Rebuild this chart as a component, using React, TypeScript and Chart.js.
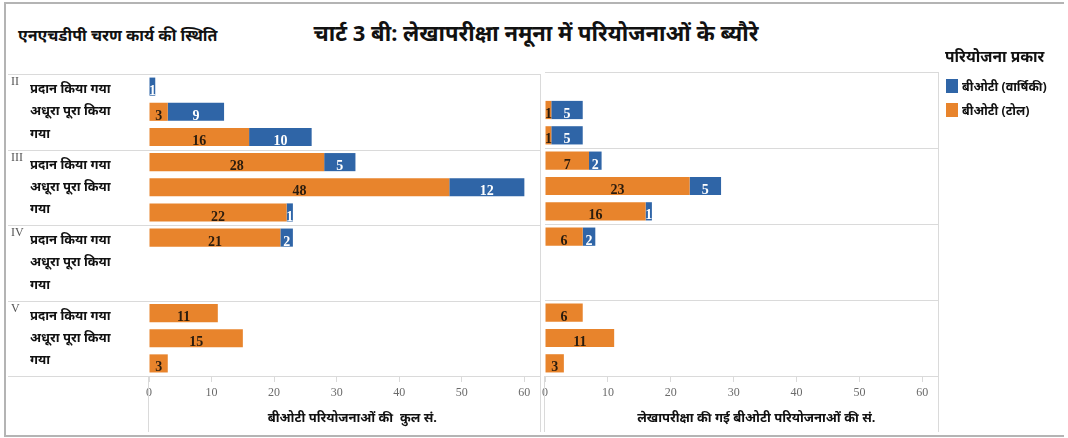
import React, { useEffect, useRef } from 'react';
import { Chart, registerables } from 'chart.js';
Chart.register(...registerables);

// ---- data ----
const phases = ['II', 'III', 'IV', 'V'];
const statusLines = ['प्रदान किया गया', 'अधूरा पूरा किया', 'गया'];
const categories = [
  'II-प्रदान किया गया', 'II-अधूरा', 'II-पूरा किया गया',
  'III-प्रदान किया गया', 'III-अधूरा', 'III-पूरा किया गया',
  'IV-प्रदान किया गया', 'IV-अधूरा', 'IV-पूरा किया गया',
  'V-प्रदान किया गया', 'V-अधूरा', 'V-पूरा किया गया',
];
const seriesToll = 'बीओटी (टोल)';
const seriesAnnuity = 'बीओटी (वार्षिकी)';
const totalToll = [0, 3, 16, 28, 48, 22, 21, 0, 0, 11, 15, 3];
const totalAnnuity = [1, 9, 10, 5, 12, 1, 2, 0, 0, 0, 0, 0];
const auditedToll = [0, 1, 1, 7, 23, 16, 6, 0, 0, 6, 11, 3];
const auditedAnnuity = [0, 5, 5, 2, 5, 1, 2, 0, 0, 0, 0, 0];
const xTicks = [0, 10, 20, 30, 40, 50, 60];
const xMax = 62.5;

const chartTitle = 'चार्ट 3 बी: लेखापरीक्षा नमूना में परियोजनाओं के ब्यौरे';
const yHeading = 'एनएचडीपी चरण कार्य की स्थिति';
const leftAxisTitle = 'बीओटी परियोजनाओं की  कुल सं.';
const rightAxisTitle = 'लेखापरीक्षा की गई बीओटी परियोजनाओं की सं.';
const legendTitle = 'परियोजना प्रकार';

const ORANGE = '#E8842C';
const BLUE = '#2F65A7';
const LINE = '#dadada';
const DEV = '"Noto Sans", "Noto Sans Devanagari", sans-serif';
const SERIF = '"Liberation Serif", "Times New Roman", serif';

type PanelProps = {
  toll: number[];
  annuity: number[];
  left: number;
  width: number;
  withLabels: boolean;
  axisTitle: string;
  titleValue: number;
};

function Panel({ toll, annuity, left, width, withLabels, axisTitle, titleValue }: PanelProps) {
  const ref = useRef<HTMLCanvasElement | null>(null);
  useEffect(() => {
    if (!ref.current) return;
    const panelPlugin = {
      id: 'panelDeco',
      beforeDatasetsDraw(chart: any) {
        const ctx = chart.ctx;
        const y = chart.scales.y;
        const ca = chart.chartArea;
        const half = (y.getPixelForValue(1) - y.getPixelForValue(0)) / 2;
        ctx.save();
        ctx.strokeStyle = LINE;
        ctx.lineWidth = 1;
        const startX = withLabels ? 8 : ca.left;
        for (let i = 0; i <= categories.length; i += 3) {
          const py = Math.round(
            i < categories.length ? y.getPixelForValue(i) - half : y.getPixelForValue(categories.length - 1) + half
          ) + 0.5;
          ctx.beginPath();
          ctx.moveTo(startX, py);
          ctx.lineTo(ca.right, py);
          ctx.stroke();
        }
        ctx.beginPath();
        ctx.moveTo(Math.round(ca.right) + 0.5, ca.top);
        ctx.lineTo(Math.round(ca.right) + 0.5, chart.height - 6);
        ctx.moveTo(Math.round(ca.left) - 0.5, ca.bottom);
        ctx.lineTo(Math.round(ca.left) - 0.5, chart.height - 6);
        ctx.stroke();
        if (withLabels) {
          ctx.fillStyle = '#555';
          ctx.font = `12px ${SERIF}`;
          ctx.textAlign = 'left';
          ctx.textBaseline = 'middle';
          phases.forEach((p, gi) => {
            const top = y.getPixelForValue(gi * 3) - half;
            ctx.fillText(p, 11, top + 8);
          });
        }
        ctx.fillStyle = '#111';
        ctx.font = `bold 13px ${DEV}`;
        ctx.textAlign = 'center';
        ctx.textBaseline = 'middle';
        ctx.fillText(axisTitle, chart.scales.x.getPixelForValue(titleValue), chart.height - 20);
        ctx.restore();
      },
      afterDatasetsDraw(chart: any) {
        const ctx = chart.ctx;
        ctx.save();
        ctx.font = `bold 14px ${SERIF}`;
        ctx.textAlign = 'center';
        ctx.textBaseline = 'alphabetic';
        chart.data.datasets.forEach((ds: any, di: number) => {
          const meta = chart.getDatasetMeta(di);
          meta.data.forEach((bar: any, i: number) => {
            const v = ds.data[i];
            if (!v) return;
            const p = bar.getProps(['x', 'y', 'base', 'height'], true);
            ctx.fillStyle = di === 0 ? '#2a1c0e' : '#ffffff';
            ctx.fillText(String(v), (p.x + p.base) / 2, p.y + p.height / 2 - 1);
          });
        });
        ctx.restore();
      },
    };

    const chart = new Chart(ref.current, {
      type: 'bar',
      data: {
        labels: categories,
        datasets: [
          { label: seriesToll, data: toll, backgroundColor: ORANGE, borderWidth: 0 },
          { label: seriesAnnuity, data: annuity, backgroundColor: BLUE, borderWidth: 0 },
        ],
      },
      options: {
        indexAxis: 'y',
        responsive: false,
        animation: false,
        maintainAspectRatio: false,
        layout: { padding: { left: withLabels ? 30 : 0, right: withLabels ? 2 : 24, top: 12, bottom: 0 } },
        plugins: { legend: { display: false }, tooltip: { enabled: false }, title: { display: false } },
        datasets: { bar: { barPercentage: 0.72, categoryPercentage: 1 } },
        scales: {
          x: {
            stacked: true,
            min: 0,
            max: xMax,
            afterBuildTicks: (s: any) => {
              s.ticks = xTicks.map((v) => ({ value: v }));
            },
            afterFit: (s: any) => {
              s.height = 62;
            },
            grid: { drawOnChartArea: false, drawTicks: true, tickLength: 6, color: LINE },
            border: { display: false },
            ticks: { color: '#6a6a6a', font: { family: SERIF, size: 12 }, padding: 4, maxRotation: 0 },
          },
          y: {
            stacked: true,
            display: withLabels,
            afterFit: (s: any) => {
              s.width = withLabels ? 119 : 0;
            },
            grid: { display: false },
            border: { display: false },
            ticks: {
              autoSkip: false,
              crossAlign: 'far',
              color: '#111',
              font: { family: DEV, size: 13, weight: 'bold', lineHeight: 1.7 },
              callback: (_v: any, i: number) => (i % 3 === 1 ? statusLines : ''),
            },
          },
        },
      } as any,
      plugins: [panelPlugin],
    });
    return () => chart.destroy();
  }, []);
  return (
    <div style={{ position: 'absolute', left, top: 60, width, height: 378 }}>
      <canvas ref={ref} width={width} height={378} />
    </div>
  );
}

export default function App() {
  return (
    <div
      style={{
        position: 'absolute',
        left: 0,
        top: 0,
        width: 1068,
        height: 438,
        background: '#fff',
        overflow: 'hidden',
        fontFamily: DEV,
      }}
    >
      <div
        style={{
          position: 'absolute',
          left: 4,
          top: 2,
          width: 1058,
          height: 431,
          border: '2px solid #b4b4b4',
          borderRight: 'none',
        }}
      />
      <div
        style={{
          position: 'absolute',
          left: 0,
          width: 1072,
          top: 18,
          textAlign: 'center',
          fontWeight: 'bold',
          fontSize: 22,
          lineHeight: '28px',
          color: '#111',
        }}
      >
        {chartTitle}
      </div>
      <div style={{ position: 'absolute', left: 18, top: 24, fontWeight: 'bold', fontSize: 16, lineHeight: '22px', color: '#111' }}>
        {yHeading}
      </div>
      <Panel toll={totalToll} annuity={totalAnnuity} left={0} width={542} withLabels={true} axisTitle={leftAxisTitle} titleValue={32.5} />
      <Panel toll={auditedToll} annuity={auditedAnnuity} left={538} width={424} withLabels={false} axisTitle={rightAxisTitle} titleValue={33.6} />
      <div style={{ position: 'absolute', left: 945, top: 44, fontWeight: 'bold', fontSize: 15.5, lineHeight: '24px', color: '#111', whiteSpace: 'nowrap' }}>
        {legendTitle}
      </div>
      {[
        { c: BLUE, t: seriesAnnuity, y: 79 },
        { c: ORANGE, t: seriesToll, y: 103 },
      ].map((it) => (
        <div key={it.t} style={{ position: 'absolute', left: 946, top: it.y, height: 14, display: 'flex', alignItems: 'center', whiteSpace: 'nowrap' }}>
          <div style={{ width: 12, height: 14, background: it.c, marginRight: 4 }} />
          <span style={{ fontWeight: 'bold', fontSize: 12.5, color: '#111' }}>{it.t}</span>
        </div>
      ))}
    </div>
  );
}
